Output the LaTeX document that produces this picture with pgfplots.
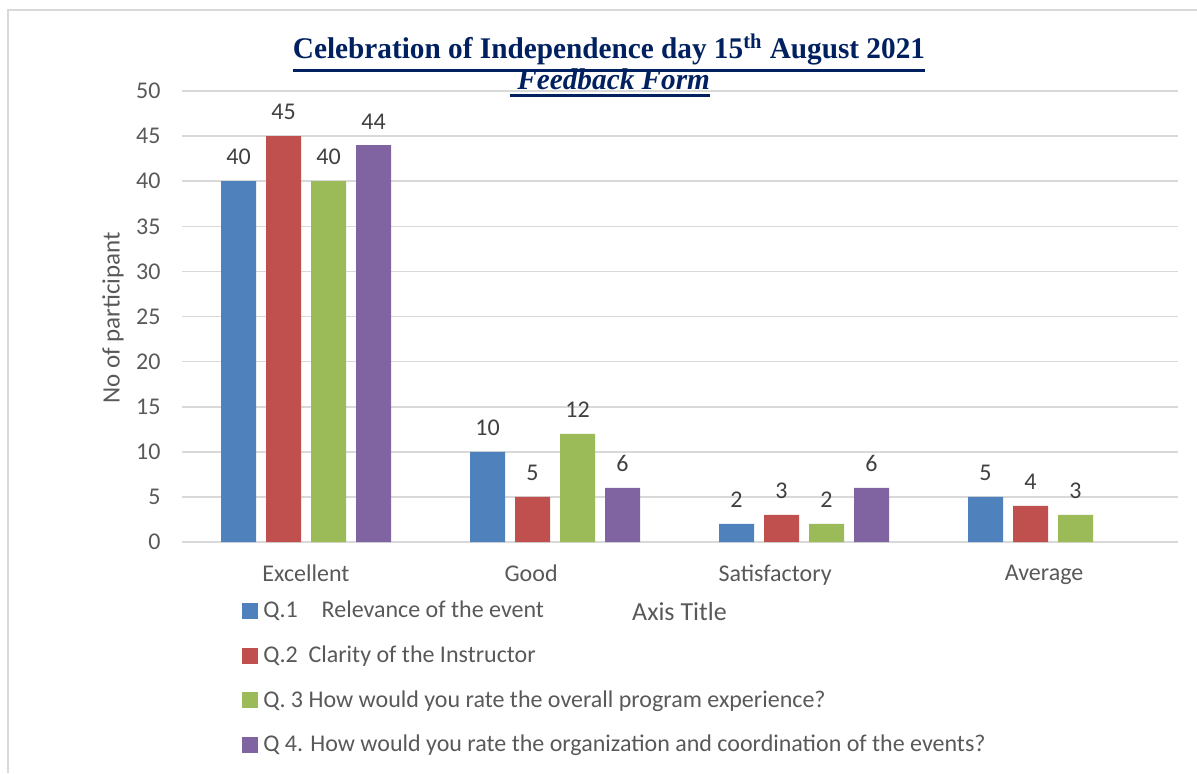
\documentclass[border=0pt]{standalone}
\usepackage{pgfplots}
\pgfplotsset{compat=1.18}
\usepackage{fontspec}
\usepackage{graphicx}
\setmainfont{Carlito}
\newfontfamily\titlefont{Liberation Serif}
\definecolor{qblue}{HTML}{4F81BD}
\definecolor{qred}{HTML}{C0504D}
\definecolor{qgreen}{HTML}{9BBB59}
\definecolor{qpurple}{HTML}{8064A2}
\definecolor{gridc}{HTML}{D9D9D9}
\definecolor{txt}{HTML}{595959}
\definecolor{lbl}{HTML}{404040}
\definecolor{navy}{RGB}{0,32,96}
\newcommand\thickul[1]{\leavevmode\vtop{\hbox{#1}\kern1.6pt\hrule height 1.5pt}}
\begin{document}
\begin{tikzpicture}
\path[use as bounding box] (0,0) rectangle (598.5pt,386.5pt);
\draw[gridc, line width=0.8pt] (4pt,0) -- (4pt,381.5pt) -- (598.5pt,381.5pt);
\node[anchor=base, text=navy, inner sep=0pt] at (304.5pt,357pt)
  {\resizebox{316pt}{\height}{\titlefont\fontsize{15}{18}\selectfont\bfseries\thickul{Celebration of Independence day 15\textsuperscript{th} August 2021}}};
\node[anchor=base, text=navy, inner sep=0pt] at (305pt,341.5pt)
  {\resizebox{100pt}{\height}{\titlefont\fontsize{15}{18}\selectfont\bfseries\itshape\thickul{\ Feedback Form}}};
\begin{axis}[
  at={(90.75pt,115.5pt)}, anchor=south west,
  scale only axis, width=498pt, height=225.5pt,
  /pgf/number format/assume math mode=true,
  ybar=5pt, bar width=17.5pt,
  xmin=-0.5, xmax=3.5, ymin=0, ymax=50,
  ytick={0,5,...,50},
  xtick={0,0.904,1.884,2.964},
  xticklabels={Excellent,Good,Satisfactory,Average},
  axis line style={draw=none},
  major tick length=0pt,
  ymajorgrids, grid style={gridc, line width=0.8pt},
  tick label style={font=\fontsize{12}{14}\selectfont, text=txt},
  yticklabel style={xshift=-7pt},
  xticklabel style={yshift=-8pt},
  ylabel={No of participant},
  every axis y label/.style={at={(axis description cs:-0.0688,0.497)}, rotate=90, anchor=center,
    font=\fontsize{12.5}{15}\selectfont, text=txt},
  xlabel={Axis Title},
  every axis x label/.style={at={(axis description cs:0.5,-0.155)}, anchor=center,
    font=\fontsize{13}{15}\selectfont, text=txt},
  nodes near coords,
  every node near coord/.append style={font=\fontsize{12}{14}\selectfont, text=lbl, yshift=4.5pt},
  legend style={draw=none, fill=none, at={(axis description cs:0.0607,-0.1255)}, anchor=north west,
    font=\fontsize{12}{14}\selectfont, text=txt, row sep=10.5pt, inner sep=0pt,
    nodes={inner xsep=2.5pt, inner ysep=1pt, anchor=west}},
  legend cell align=left,
  legend image code/.code={\path[#1,draw=none] (0pt,-4pt) rectangle (8pt,4pt);},
]
\addplot[fill=qblue, draw=none] coordinates {(0,40) (1,10) (2,2) (3,5)};
\addplot[fill=qred, draw=none] coordinates {(0,45) (1,5) (2,3) (3,4)};
\addplot[fill=qgreen, draw=none] coordinates {(0,40) (1,12) (2,2) (3,3)};
\addplot[fill=qpurple, draw=none] coordinates {(0,44) (1,6) (2,6)};
\legend{Q.1\quad Relevance of the event, Q.2\ \ Clarity of the Instructor, Q. 3 How would you rate the overall program experience?, Q 4. How would you rate the organization and coordination of the events?}
\end{axis}
\end{tikzpicture}
\end{document}
